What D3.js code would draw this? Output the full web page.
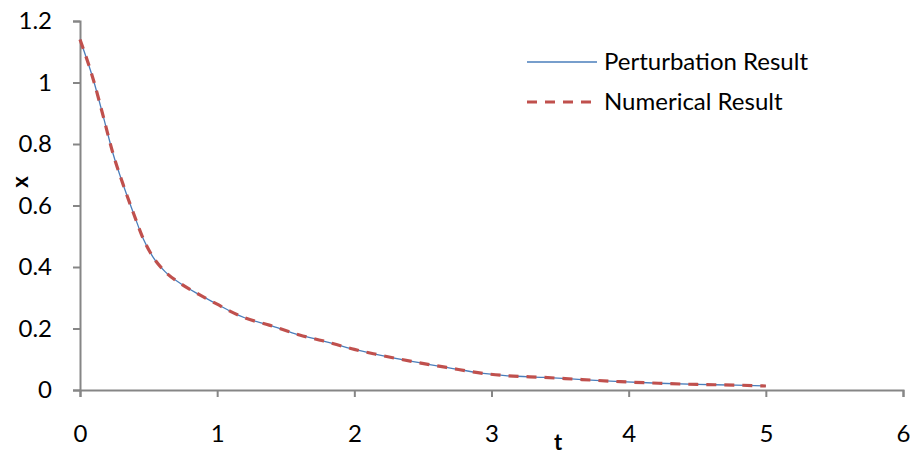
<!DOCTYPE html>
<html><head><meta charset="utf-8">
<script src="https://cdn.jsdelivr.net/npm/d3@7"></script>
<style>body{margin:0;background:#fff}svg{display:block}text{font-family:Lato,"Open Sans",sans-serif}</style>
</head><body><svg id="c" width="912" height="456"></svg>
<script>
const tValues = [0, 0.1, 0.17, 0.24, 0.32, 0.39, 0.46, 0.53, 0.62, 0.73, 0.87, 1.0, 1.1, 1.2, 1.38, 1.6, 1.77, 2.0, 2.15, 2.43, 2.69, 2.94, 3.1, 3.38, 3.66, 3.94, 4.22, 4.5, 4.78, 5.0];
const perturbation = [1.14, 1.005, 0.889, 0.77, 0.661, 0.575, 0.493, 0.434, 0.385, 0.347, 0.31, 0.279, 0.255, 0.235, 0.211, 0.179, 0.16, 0.132, 0.117, 0.092, 0.072, 0.054, 0.047, 0.041, 0.034, 0.027, 0.022, 0.018, 0.016, 0.013];
const numerical = [1.14, 1.005, 0.889, 0.77, 0.661, 0.575, 0.493, 0.434, 0.385, 0.347, 0.31, 0.279, 0.255, 0.235, 0.211, 0.179, 0.16, 0.132, 0.117, 0.092, 0.072, 0.054, 0.047, 0.041, 0.034, 0.027, 0.022, 0.018, 0.016, 0.013];
const xTicks = [0, 1, 2, 3, 4, 5, 6];
const yTicks = [0, 0.2, 0.4, 0.6, 0.8, 1, 1.2];
const seriesNames = ["Perturbation Result", "Numerical Result"];

const svg = d3.select("#c");
const x = d3.scaleLinear().domain([0, 6]).range([80, 903]);
const y = d3.scaleLinear().domain([0, 1.2]).range([390, 21]);
const axisColor = "#868686";
const fmt = d => String(+d.toFixed(1));

const yAxis = svg.append("g").attr("transform", "translate(80,0)")
  .call(d3.axisLeft(y).tickValues(yTicks).tickSize(7).tickPadding(21).tickFormat(fmt));
const xAxis = svg.append("g").attr("transform", "translate(0,390)")
  .call(d3.axisBottom(x).tickValues(xTicks).tickSize(7).tickPadding(28).tickFormat(fmt));
[yAxis, xAxis].forEach(a => {
  a.select(".domain").attr("stroke", axisColor).attr("stroke-width", 2);
  a.selectAll(".tick line").attr("stroke", axisColor).attr("stroke-width", 2);
  a.selectAll(".tick text").attr("fill", "#000").style("font-size", "24px")
    .style("font-family", 'Lato,"Open Sans",sans-serif');
});

const pts1 = tValues.map((t, i) => [t, perturbation[i]]);
const pts2 = tValues.map((t, i) => [t, numerical[i]]);
const line = d3.line().x(d => x(d[0])).y(d => y(d[1])).curve(d3.curveMonotoneX);

svg.append("path").attr("d", line(pts1)).attr("fill", "none")
  .attr("stroke", "#4A7EBB").attr("stroke-width", 1.3);
svg.append("path").attr("d", line(pts2)).attr("fill", "none")
  .attr("stroke", "#C0504D").attr("stroke-width", 3.2).attr("stroke-dasharray", "10,8");

svg.append("text").attr("x", 558).attr("y", 450).attr("text-anchor", "middle")
  .style("font-size", "22px").style("font-weight", "bold").text("t");
svg.append("text").attr("transform", "translate(28,182) rotate(-90)").attr("text-anchor", "middle")
  .style("font-size", "22px").style("font-weight", "bold").text("x");

const lg = svg.append("g");
lg.append("line").attr("x1", 527).attr("x2", 597).attr("y1", 62).attr("y2", 62)
  .attr("stroke", "#4A7EBB").attr("stroke-width", 1.3);
lg.append("line").attr("x1", 527).attr("x2", 597).attr("y1", 102).attr("y2", 102)
  .attr("stroke", "#C0504D").attr("stroke-width", 3.2).attr("stroke-dasharray", "10,8");
seriesNames.forEach((n, i) => {
  lg.append("text").attr("x", 604).attr("y", 62 + i * 40).attr("dy", "0.35em")
    .style("font-size", "24px").text(n);
});
</script></body></html>
